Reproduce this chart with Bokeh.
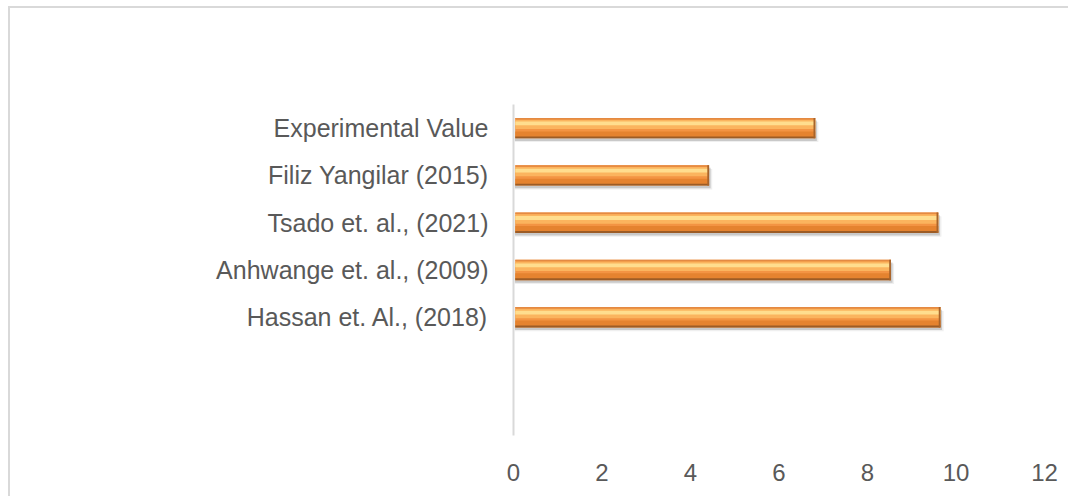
from bokeh.plotting import figure
from bokeh.models import ColumnDataSource, FactorRange, Range1d, FixedTicker, Label
from bokeh.transform import dodge
from bokeh.embed import file_html
from bokeh.resources import INLINE

# ---- data ----
categories = ["Experimental Value", "Filiz Yangilar (2015)", "Tsado et. al., (2021)",
              "Anhwange et. al., (2009)", "Hassan et. Al., (2018)"]
values = [6.82, 4.42, 9.6, 8.53, 9.65]
blank_slots = ["  ", " "]          # two empty category slots at the bottom
x_ticks = [0, 2, 4, 6, 8, 10, 12]
title_text = "Total Ash Content"

# factors bottom -> top
factors = blank_slots + categories[::-1]
src = ColumnDataSource(dict(cat=categories, val=values))

FONT = "Liberation Sans"
TXT = "#595959"

p = figure(width=1060, height=490, output_backend="svg", toolbar_location=None,
           y_range=FactorRange(*factors, range_padding=0), x_range=Range1d(0, 12),
           min_border_left=503, min_border_right=26, min_border_top=96, min_border_bottom=63)
p.styles = {"border-top": "2px solid #d9d9d9", "border-left": "2px solid #d9d9d9",
            "margin-left": "8px", "margin-top": "6px"}
p.outline_line_color = None
p.xgrid.grid_line_color = None
p.ygrid.grid_line_color = None
p.background_fill_color = "white"
p.border_fill_color = "white"
p.title.text = ""

# chart title, placed in the top margin (left of the plot area, above the bars)
p.add_layout(Label(x=-1.99, y=8.37, x_units="data", y_units="data", text=title_text,
                   text_align="left", text_baseline="middle",
                   text_font=FONT, text_font_size="28px", text_font_style="bold",
                   text_color=TXT))

# x axis
p.xaxis.ticker = FixedTicker(ticks=x_ticks)
p.xaxis.axis_line_color = None
p.xaxis.major_tick_line_color = None
p.xaxis.minor_tick_line_color = None
p.xaxis.major_tick_out = 0
p.xaxis.major_label_standoff = 28
p.xaxis.major_label_text_font = FONT
p.xaxis.major_label_text_font_size = "24px"
p.xaxis.major_label_text_color = TXT

# y axis
p.yaxis.axis_line_color = "#d9d9d9"
p.yaxis.axis_line_width = 2
p.yaxis.major_tick_line_color = None
p.yaxis.minor_tick_line_color = None
p.yaxis.major_tick_out = 0
p.yaxis.major_label_standoff = 25
p.yaxis.major_label_text_font = FONT
p.yaxis.major_label_text_font_size = "25px"
p.yaxis.major_label_text_color = TXT

yr = p.y_range
H = 0.43
# soft shadow
p.hbar(y=dodge("cat", -0.08, range=yr), left=0.03, right=dodge("val", 0.07), height=H,
       source=src, fill_color="#808080", fill_alpha=0.13, line_color=None)
p.hbar(y=dodge("cat", -0.055, range=yr), left=0.03, right=dodge("val", 0.035), height=H,
       source=src, fill_color="#707070", fill_alpha=0.3, line_color=None)
# main bar
p.hbar(y="cat", left=0.04, right="val", height=H, source=src,
       fill_color="#F39443", line_color=None)
# lower darker gradient
p.hbar(y=dodge("cat", -0.13, range=yr), left=0.04, right="val", height=0.12, source=src,
       fill_color="#E5832F", line_color=None)
# bottom dark edge
p.hbar(y=dodge("cat", -0.195, range=yr), left=0.04, right="val", height=0.04, source=src,
       fill_color="#9C5C26", line_color=None)
# upper soft glow
p.hbar(y=dodge("cat", 0.08, range=yr), left=0.04, right="val", height=0.2, source=src,
       fill_color="#FBB45E", line_color=None)
# highlight streak
p.hbar(y=dodge("cat", 0.1, range=yr), left=0.04, right="val", height=0.08, source=src,
       fill_color="#FFDD8E", line_color=None)
# top edge
p.hbar(y=dodge("cat", 0.2, range=yr), left=0.04, right="val", height=0.03, source=src,
       fill_color="#E48A42", line_color=None)
# right end edge
p.hbar(y="cat", left=dodge("val", -0.04), right="val", height=H, source=src,
       fill_color="#A8642B", line_color=None)

open("out.html", "w").write(file_html(p, INLINE))
